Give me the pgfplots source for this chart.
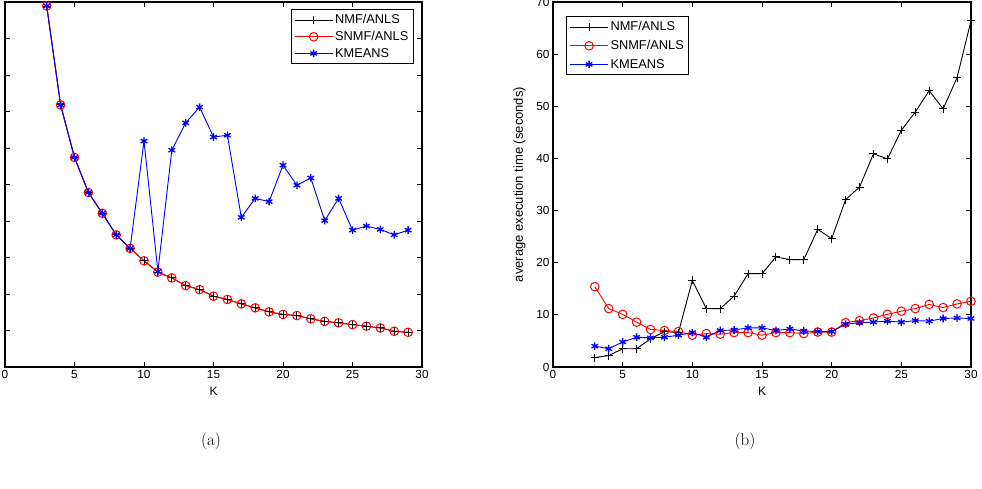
\documentclass[border=0pt]{standalone}
\usepackage{pgfplots}
\pgfplotsset{compat=1.18}
\usepackage{fontspec}
\newfontfamily\arial{Liberation Sans}

\pgfplotsset{
  matlab/.style={
    scale only axis, width=417pt, height=365pt,
    xmin=0, xmax=30, xtick={0,5,...,30},
    tick align=inside, major tick length=5pt,
    axis line style={line width=1.1pt},
    every tick/.style={black, line width=0.8pt},
    tick label style={font=\arial\fontsize{11.8}{14}\selectfont},
    /pgf/number format/assume math mode=true,
    label style={font=\arial\fontsize{12}{14}\selectfont},
    xlabel={K},
    xlabel style={yshift=-1pt},
    legend cell align=left,
    legend image code/.code={
      \draw[mark repeat=2,mark phase=2] plot coordinates {(0pt,0pt)(19pt,0pt)(38pt,0pt)};},
    legend style={font=\arial\fontsize{12.8}{15}\selectfont, draw=black, line width=1.3pt,
      inner xsep=3pt, inner ysep=3pt, row sep=2pt},
  },
  nmf/.style={black, line width=0.9pt, mark=+, mark size=4pt, mark options={solid, line width=1pt}},
  snmf/.style={red, line width=0.9pt, mark=o, mark size=4.3pt, mark options={solid, line width=1pt}},
  km/.style={blue, line width=0.9pt, mark=asterisk, mark size=3.8pt, mark options={solid, line width=1.3pt}},
}

\begin{document}
\begin{tikzpicture}
\useasboundingbox (0pt,0pt) rectangle (982pt,489pt);

% (a) objective value against K
\begin{axis}[matlab, at={(5pt,122pt)}, anchor=origin,
  ymin=0, ymax=10, ytick={0,1,...,10}, yticklabels={},
  legend style={at={(1,1)}, anchor=north east, xshift=-8pt, yshift=-7pt}]
\addplot[nmf] coordinates {
(3,9.89)(4,7.18)(5,5.74)(6,4.78)(7,4.21)(8,3.62)(9,3.25)(10,2.91)(11,2.60)
(12,2.44)(13,2.23)(14,2.12)(15,1.94)(16,1.85)(17,1.73)(18,1.62)(19,1.51)
(20,1.44)(21,1.41)(22,1.32)(23,1.25)(24,1.21)(25,1.16)(26,1.12)(27,1.07)
(28,0.98)(29,0.95)};
\addlegendentry{NMF/ANLS}
\addplot[snmf] coordinates {
(3,9.89)(4,7.18)(5,5.74)(6,4.78)(7,4.21)(8,3.62)(9,3.25)(10,2.91)(11,2.60)
(12,2.44)(13,2.23)(14,2.12)(15,1.94)(16,1.85)(17,1.73)(18,1.62)(19,1.51)
(20,1.44)(21,1.41)(22,1.32)(23,1.25)(24,1.21)(25,1.16)(26,1.12)(27,1.07)
(28,0.98)(29,0.95)};
\addlegendentry{SNMF/ANLS}
\addplot[km] coordinates {
(3,9.89)(4,7.18)(5,5.74)(6,4.78)(7,4.21)(8,3.62)(9,3.25)(10,6.19)(11,2.62)
(12,5.94)(13,6.69)(14,7.12)(15,6.30)(16,6.35)(17,4.10)(18,4.62)(19,4.53)
(20,5.53)(21,4.98)(22,5.18)(23,4.01)(24,4.62)(25,3.75)(26,3.86)(27,3.77)
(28,3.62)(29,3.75)};
\addlegendentry{KMEANS}
\end{axis}

% (b) average execution time against K
\begin{axis}[matlab, at={(553pt,122pt)}, anchor=origin, width=418pt,
  ymin=0, ymax=70, ytick={0,10,...,70},
  ylabel={average execution time (seconds)},
  ylabel style={font=\arial\fontsize{13}{15}\selectfont, yshift=4pt},
  legend style={at={(0,1)}, anchor=north west, xshift=13pt, yshift=-14pt, row sep=4pt}]
\addplot[nmf] coordinates {
(3,1.8)(4,2.2)(5,3.5)(6,3.5)(7,5.4)(8,6.8)(9,6.6)(10,16.6)(11,11.2)(12,11.2)
(13,13.6)(14,17.9)(15,17.9)(16,21.1)(17,20.6)(18,20.6)(19,26.4)(20,24.6)
(21,32.1)(22,34.5)(23,40.9)(24,39.9)(25,45.4)(26,48.9)(27,53.0)(28,49.5)
(29,55.5)(30,66.4)};
\addlegendentry{NMF/ANLS}
\addplot[snmf] coordinates {
(3,15.4)(4,11.2)(5,10.1)(6,8.6)(7,7.2)(8,7.0)(9,6.8)(10,6.1)(11,6.4)(12,6.3)
(13,6.6)(14,6.6)(15,6.1)(16,6.6)(17,6.6)(18,6.4)(19,6.7)(20,6.7)(21,8.5)
(22,8.9)(23,9.4)(24,10.1)(25,10.7)(26,11.2)(27,12.0)(28,11.4)(29,12.1)(30,12.6)};
\addlegendentry{SNMF/ANLS}
\addplot[km] coordinates {
(3,4.0)(4,3.5)(5,4.8)(6,5.7)(7,5.6)(8,5.7)(9,6.1)(10,6.6)(11,5.7)(12,7.0)
(13,7.1)(14,7.5)(15,7.5)(16,7.0)(17,7.3)(18,6.9)(19,6.8)(20,6.8)(21,8.2)
(22,8.5)(23,8.6)(24,8.8)(25,8.6)(26,8.9)(27,8.8)(28,9.3)(29,9.4)(30,9.3)};
\addlegendentry{KMEANS}
\end{axis}

\node[font=\fontsize{17}{20}\selectfont] at (211pt,48pt) {(a)};
\node[font=\fontsize{17}{20}\selectfont] at (745pt,48pt) {(b)};
\end{tikzpicture}
\end{document}
